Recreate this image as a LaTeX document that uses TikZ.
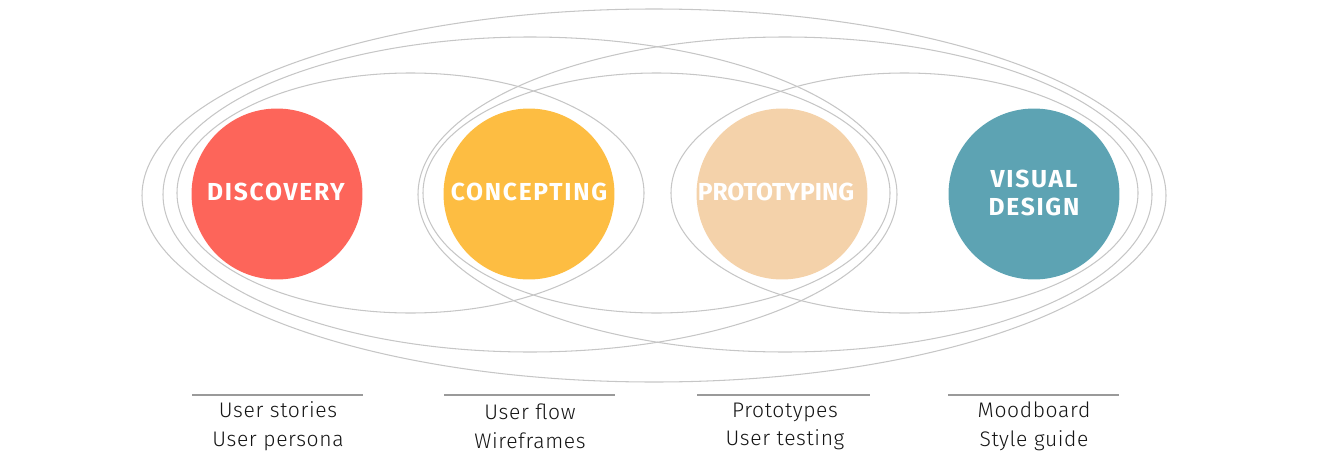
\documentclass[tikz,border=0pt]{standalone}
\usepackage{fontspec}
\setmainfont{Fira Sans}
\newfontfamily\lightfont{Fira Sans Light}[LetterSpace=3]
\newfontfamily\phasewide{Fira Sans}[LetterSpace=7]
\newfontfamily\phasetight{Fira Sans}
\definecolor{discov}{HTML}{FD655A}
\definecolor{concep}{HTML}{FDBD42}
\definecolor{protot}{HTML}{F4D2AA}
\definecolor{visual}{HTML}{5DA3B3}
\definecolor{ringgray}{HTML}{C6C6C6}
\definecolor{rulegray}{HTML}{9A9A9A}
\tikzset{
  ring/.style={draw=ringgray, line width=0.6pt},
  phase/.style={circle, minimum size=3.42cm, inner sep=0pt},
  phasetext/.style={inner sep=0pt, text=white, align=center,
    font=\phasewide\bfseries\fontsize{14}{15.9}\selectfont},
  rulebar/.style={draw=rulegray, line width=0.6pt},
  items/.style={font=\lightfont\fontsize{12}{16.4}\selectfont, align=center, text=black!92, inner sep=0pt}
}
\begin{document}
\begin{tikzpicture}[x=0.02cm, y=-0.02cm]
\useasboundingbox (0,0) rectangle (1319,463);
% rings
\draw[ring] (654,195.5) ellipse [x radius=512, y radius=186.5];
\draw[ring] (530,194.5) ellipse [x radius=367, y radius=157.5];
\draw[ring] (785,194.5) ellipse [x radius=367, y radius=157.5];
\draw[ring] (410.5,193) ellipse [x radius=233.5, y radius=120];
\draw[ring] (656.5,193) ellipse [x radius=233.5, y radius=120];
\draw[ring] (904.5,193) ellipse [x radius=233.5, y radius=120];
% phases
\node[phase, fill=discov] (d) at (277,194) {};
\node[phase, fill=concep] (c) at (529,194) {};
\node[phase, fill=protot] (p) at (782,194) {};
\node[phase, fill=visual] (v) at (1034,194) {};
\node[phasetext] (dl) at (276,192) {DISCOVERY};
\node[phasetext] (cl) at (529,192) {CONCEPTING};
\node[phasetext, font=\phasetight\bfseries\fontsize{14}{15.9}\selectfont] (pl) at (776,192) {PROTOTYPING};
\node[phasetext] (vl) at (1034,193) {VISUAL\\DESIGN};
% rules
\coordinate (r1a) at (192,395); \coordinate (r1b) at (363,395);
\coordinate (r2a) at (444,395); \coordinate (r2b) at (615,395);
\coordinate (r3a) at (697,395); \coordinate (r3b) at (870,395);
\coordinate (r4a) at (948,395); \coordinate (r4b) at (1119,395);
\draw[rulebar] (r1a) -- (r1b);
\draw[rulebar] (r2a) -- (r2b);
\draw[rulebar] (r3a) -- (r3b);
\draw[rulebar] (r4a) -- (r4b);
% items
\node[items] (t1) at (278,426.5) {User stories\\User persona};
\node[items] (t2) at (530,426.5) {User flow\\Wireframes};
\node[items] (t3) at (785,426.5) {Prototypes\\User testing};
\node[items] (t4) at (1034,426.5) {Moodboard\\Style guide};
\end{tikzpicture}
\end{document}
